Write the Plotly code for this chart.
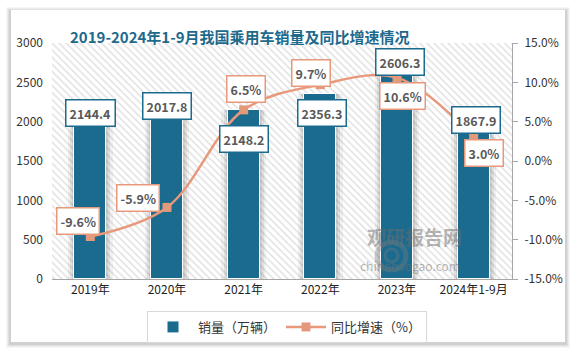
import plotly.graph_objects as go

categories = ["2019年", "2020年", "2021年", "2022年", "2023年", "2024年1-9月"]
sales = [2144.4, 2017.8, 2148.2, 2356.3, 2606.3, 1867.9]
growth = [-9.6, -5.9, 6.5, 9.7, 10.6, 3.0]
sales_labels = ["2144.4", "2017.8", "2148.2", "2356.3", "2606.3", "1867.9"]
growth_labels = ["-9.6%", "-5.9%", "6.5%", "9.7%", "10.6%", "3.0%"]
y_ticks = [0, 500, 1000, 1500, 2000, 2500, 3000]
y2_ticks = [-15, -10, -5, 0, 5, 10, 15]
y2_tick_labels = ["-15.0%", "-10.0%", "-5.0%", "0.0%", "5.0%", "10.0%", "15.0%"]

W, H = 574, 351
L, R, T, B = 52, 62, 43, 72
PW, PH = W - L - R, H - T - B

BAR = "#1b6b8f"
LINE = "#e8987b"
FONT = "Noto Sans CJK SC"

def px2paper(x, y):
    return (x - L) / PW, (H - B - y) / PH

fig = go.Figure()

# hatched background
fig.add_trace(go.Bar(x=categories, y=[3000] * 6, width=1, showlegend=False,
                     hoverinfo="skip",
                     marker=dict(color="white", line=dict(width=0),
                                 pattern=dict(shape="\\", fgcolor="#c4c4c4", bgcolor="white",
                                              size=5, solidity=0.3))))
# soft bar shadows
for w, a in [(0.58, 0.05), (0.52, 0.07), (0.47, 0.08)]:
    fig.add_trace(go.Bar(x=categories, y=sales, width=w, showlegend=False, hoverinfo="skip",
                         marker=dict(color=f"rgba(0,0,0,{a})", line=dict(width=0))))

fig.add_trace(go.Bar(x=categories, y=sales, width=0.42, name="销量（万辆）",
                     marker=dict(color=BAR, line=dict(color="white", width=1))))

fig.add_trace(go.Scatter(x=categories, y=growth, yaxis="y2", name="同比增速（%）",
                         mode="lines+markers",
                         line=dict(color=LINE, width=2.5, shape="spline", smoothing=1.0),
                         marker=dict(symbol="square", size=9, color="#e39a7b")))

# bar value labels
bar_shift = [(0, -3), (0, 14), (0, -29), (2, -19), (3, 12), (2, 12)]
for c, v, t, (dx, dy) in zip(categories, sales, sales_labels, bar_shift):
    fig.add_annotation(x=c, y=v, xref="x", yref="y", text=f"<b>{t}</b>", showarrow=False,
                       xshift=dx, yshift=dy, bgcolor="white", bordercolor=BAR, borderwidth=1.5,
                       borderpad=3, font=dict(family=FONT, size=12.5, color="#595959"))

line_shift = [(-12, 16), (-29, 9), (2, 21), (-9, 12), (5, -18), (10, -16)]
for c, v, t, (dx, dy) in zip(categories, growth, growth_labels, line_shift):
    fig.add_annotation(x=c, y=v, xref="x", yref="y2", text=f"<b>{t}</b>", showarrow=False,
                       xshift=dx, yshift=dy, bgcolor="white", bordercolor=LINE, borderwidth=1.5,
                       borderpad=3, font=dict(family=FONT, size=12.5, color="#595959"))

# card + shadow
shapes = []
for i, a in enumerate([0.03, 0.04, 0.05, 0.07]):
    g = 5 - i
    x0, y0 = px2paper(11 - g, 10 - g + 2)
    x1, y1 = px2paper(565 + g, 342 + g + 1)
    shapes.append(dict(type="rect", xref="paper", yref="paper", x0=x0, y0=y0, x1=x1, y1=y1,
                       fillcolor=f"rgba(0,0,0,{a})", line=dict(width=0), layer="below"))
x0, y0 = px2paper(11, 10)
x1, y1 = px2paper(565, 342)
shapes.append(dict(type="rect", xref="paper", yref="paper", x0=x0, y0=y0, x1=x1, y1=y1,
                   fillcolor="white", line=dict(width=0), layer="below"))

# watermark logo (rings)
cx0, cy0 = px2paper(377, 242)
cx1, cy1 = px2paper(406, 270)
shapes.append(dict(type="circle", xref="paper", yref="paper", x0=cx0, y0=cy0, x1=cx1, y1=cy1,
                   line=dict(color="rgba(130,130,130,0.35)", width=5), layer="above"))
cx0, cy0 = px2paper(385, 249)
cx1, cy1 = px2paper(398, 262)
shapes.append(dict(type="circle", xref="paper", yref="paper", x0=cx0, y0=cy0, x1=cx1, y1=cy1,
                   line=dict(color="rgba(130,130,130,0.3)", width=3), layer="above"))

# title
tx, ty = px2paper(240, 24)
fig.add_annotation(x=tx, y=ty, xref="paper", yref="paper", showarrow=False,
                   text="<b>2019-2024年1-9月我国乘用车销量及同比增速情况</b>",
                   font=dict(family="Noto Sans CJK SC", size=15, color="#1e6a8d"))

# watermark text
wx, wy = px2paper(464, 252)
fig.add_annotation(x=wx, y=wy, xref="paper", yref="paper", showarrow=False,
                   text="<b>观研报告网</b>", font=dict(family=FONT, size=19, color="rgba(110,110,110,0.5)"))
wx, wy = px2paper(462, 276)
fig.add_annotation(x=wx, y=wy, xref="paper", yref="paper", showarrow=False,
                   text="chinabaogao.com", font=dict(family=FONT, size=12, color="rgba(110,110,110,0.5)"))

fig.update_layout(
    width=W, height=H, margin=dict(l=L, r=R, t=T, b=B, autoexpand=False),
    paper_bgcolor="white", plot_bgcolor="rgba(0,0,0,0)",
    barmode="overlay", bargap=0, shapes=shapes,
    font=dict(family=FONT, size=12, color="#333333"),
    xaxis=dict(showline=True, linecolor="#a6a6a6", linewidth=1, ticks="", showgrid=False,
               automargin=False, tickfont=dict(size=12, color="#222"), range=[-0.5, 5.5]),
    yaxis=dict(range=[0, 3000], tickvals=y_ticks, showgrid=False, showline=False, zeroline=False,
               automargin=False, ticklabelstandoff=8, tickfont=dict(size=12, color="#333")),
    yaxis2=dict(range=[-15, 15], tickvals=y2_ticks, ticktext=y2_tick_labels, overlaying="y",
                side="right", showgrid=False, zeroline=False, showline=True, linecolor="#a6a6a6",
                automargin=False, ticks="outside", ticklen=5, tickcolor="#a6a6a6",
                ticklabelstandoff=4, tickfont=dict(size=12, color="#333")),
    legend=dict(orientation="h", x=287 / W, y=1 - 311 / H, xref="container", yref="container",
                xanchor="center", yanchor="top",
                bordercolor="#d9d9d9", borderwidth=1, bgcolor="white",
                font=dict(size=13, color="#333"), itemwidth=40, traceorder="normal"),
    showlegend=True,
)

fig.write_html("out.html")
